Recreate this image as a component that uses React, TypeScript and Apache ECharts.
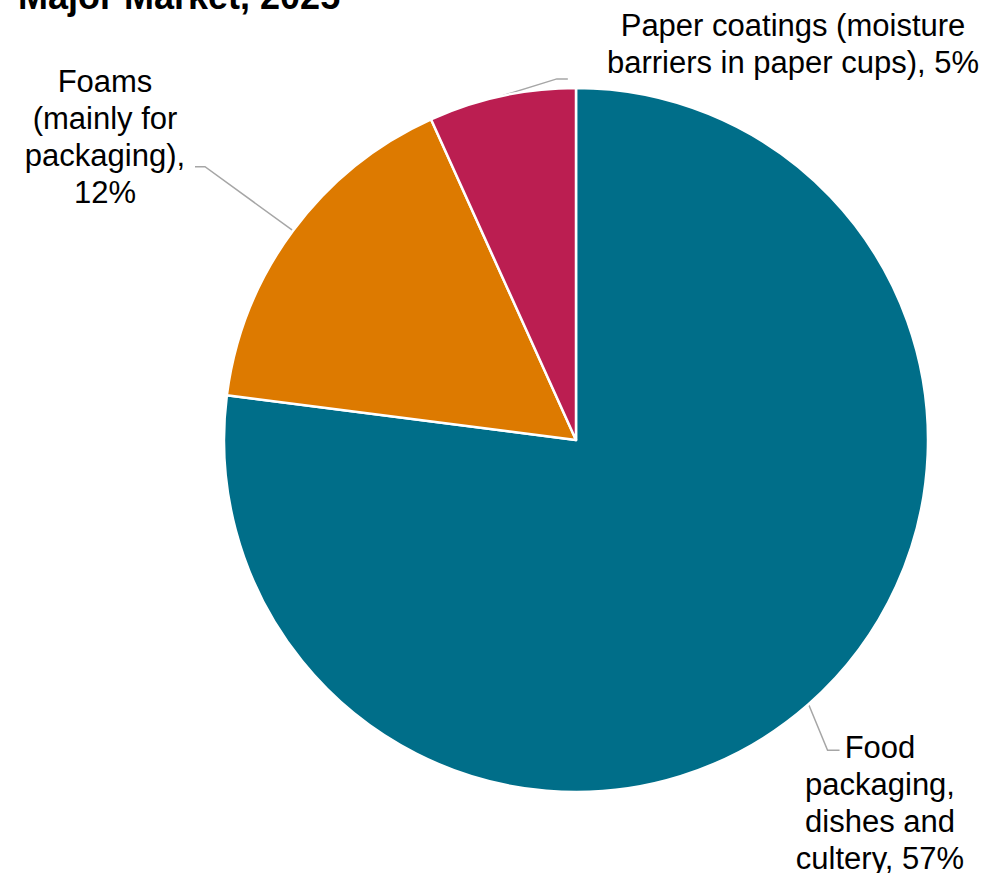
import React, { useEffect, useRef } from "react";
import * as echarts from "echarts";

const titleText = "Major Market, 2025";
const categories = [
  "Food packaging, dishes and cultery",
  "Foams (mainly for packaging)",
  "Paper coatings (moisture barriers in paper cups)",
];
const values = [57, 12, 5];
const labelTemplates = [
  "Food\npackaging,\ndishes and\ncultery, {v}%",
  "Foams\n(mainly for\npackaging),\n{v}%",
  "Paper coatings (moisture\nbarriers in paper cups), {v}%",
];
const colors = ["#006E89", "#DD7A00", "#BB1E51"];

const FONT = "'Liberation Sans', Arial, Helvetica, sans-serif";

// label placement (x, top) and leader-line bend offsets relative to slice edge
const labelPlacement = [
  { x: 880, y: 729, mid: [19, 46], end: [12, 0] },
  { x: 105, y: 63, mid: [-88, -64], end: [-10, 0] },
  { x: 793, y: 7, mid: [55, -17], end: [11, 0] },
];

export default function App() {
  const ref = useRef<HTMLDivElement>(null);
  useEffect(() => {
    if (!ref.current) return;
    const chart = echarts.init(ref.current, undefined, { renderer: "svg" });
    chart.setOption({
      animation: false,
      backgroundColor: "#ffffff",
      title: {
        text: titleText,
        left: 13,
        top: -27,
        textStyle: {
          fontFamily: FONT,
          fontWeight: "bold",
          fontSize: 36,
          color: "#000000",
        },
      },
      series: [
        {
          type: "pie",
          center: [576, 440],
          radius: [0, 352],
          startAngle: 90,
          clockwise: true,
          avoidLabelOverlap: false,
          itemStyle: { borderColor: "#ffffff", borderWidth: 2.5 },
          label: {
            show: true,
            position: "outside",
            fontFamily: FONT,
            fontSize: 31,
            lineHeight: 37,
            color: "#000000",
            align: "center",
            formatter: (p: any) =>
              labelTemplates[p.dataIndex].replace("{v}", String(p.value)),
          },
          labelLine: {
            show: true,
            length: 20,
            length2: 10,
            lineStyle: { color: "#A6A6A6", width: 1.5 },
          },
          labelLayout: (params: any) => {
            const pl = labelPlacement[params.dataIndex];
            const pts = params.labelLinePoints;
            const s = pts && pts[0] ? pts[0] : [0, 0];
            const m = [s[0] + pl.mid[0], s[1] + pl.mid[1]];
            const e = [m[0] + pl.end[0], m[1] + pl.end[1]];
            return {
              x: pl.x,
              y: pl.y,
              align: "center",
              verticalAlign: "top",
              labelLinePoints: [s, m, e],
            };
          },
          data: categories.map((name, i) => ({
            name,
            value: values[i],
            itemStyle: { color: colors[i] },
          })),
        },
      ],
    });
    return () => chart.dispose();
  }, []);
  return (
    <div
      ref={ref}
      style={{ position: "fixed", left: 0, top: 0, width: 992, height: 873 }}
    />
  );
}
